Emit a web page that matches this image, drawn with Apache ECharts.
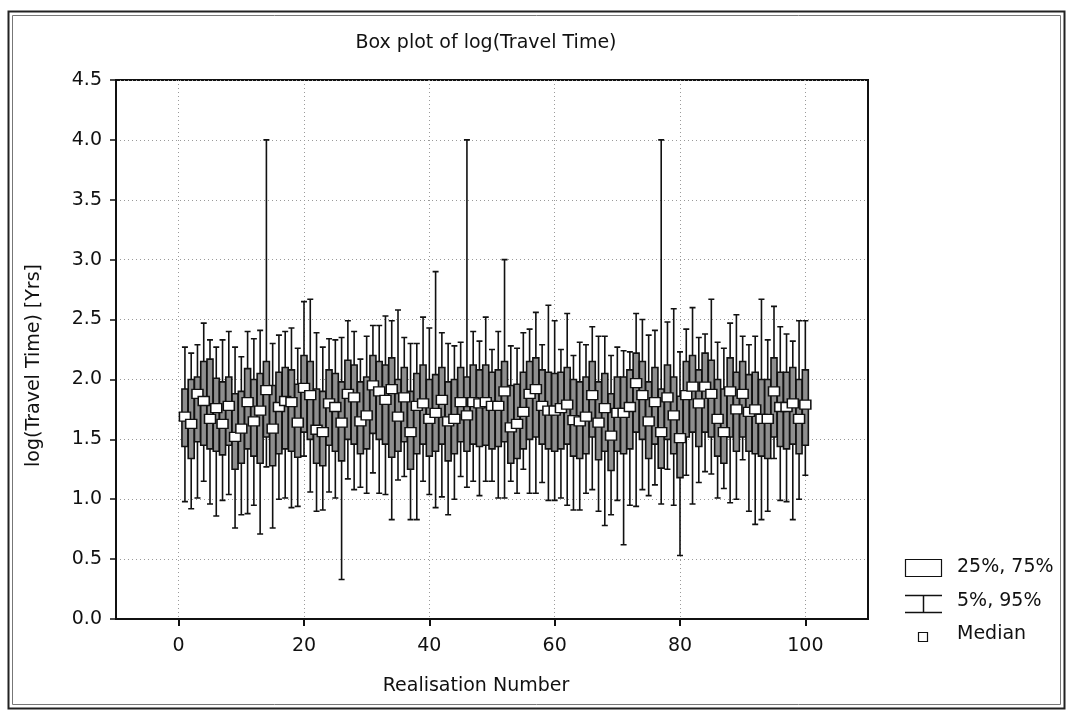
<!DOCTYPE html>
<html>
<head>
<meta charset="utf-8">
<script src="https://cdn.jsdelivr.net/npm/echarts@6/dist/echarts.min.js"></script>
<style>
html,body{margin:0;padding:0;background:#fff;}
#chart{width:1068px;height:711px;}
</style>
</head>
<body>
<div id="chart"></div>
<script>
const realisations = [1,2,3,4,5,6,7,8,9,10,11,12,13,14,15,16,17,18,19,20,21,22,23,24,25,26,27,28,29,30,31,32,33,34,35,36,37,38,39,40,41,42,43,44,45,46,47,48,49,50,51,52,53,54,55,56,57,58,59,60,61,62,63,64,65,66,67,68,69,70,71,72,73,74,75,76,77,78,79,80,81,82,83,84,85,86,87,88,89,90,91,92,93,94,95,96,97,98,99,100];
const p5 = [0.98,0.92,1.01,1.15,0.96,0.86,0.99,1.04,0.76,0.87,0.88,0.95,0.71,1.27,0.76,1.00,1.01,0.93,0.94,1.36,1.06,0.90,0.91,1.06,1.01,0.33,1.17,1.08,1.10,1.05,1.22,1.05,1.04,0.83,1.16,1.19,0.83,0.83,1.15,1.04,0.93,1.02,0.87,1.00,1.19,1.10,1.15,1.03,1.15,1.15,1.01,1.01,1.15,1.05,1.25,1.05,1.05,1.14,0.99,0.99,1.01,0.95,0.91,0.91,1.05,1.08,0.90,0.78,0.87,0.99,0.62,0.95,0.94,1.08,1.03,1.12,0.96,1.25,0.95,0.53,1.20,0.96,1.14,1.23,1.21,1.01,1.09,0.97,1.00,1.33,0.90,0.79,0.83,0.90,1.34,0.99,0.98,0.83,1.00,1.20];
const p25 = [1.44,1.34,1.48,1.45,1.42,1.40,1.37,1.45,1.25,1.30,1.42,1.36,1.30,1.52,1.28,1.38,1.42,1.40,1.35,1.56,1.50,1.30,1.28,1.45,1.40,1.32,1.50,1.46,1.38,1.42,1.55,1.50,1.46,1.35,1.40,1.48,1.25,1.38,1.46,1.36,1.40,1.46,1.32,1.38,1.48,1.40,1.46,1.44,1.45,1.42,1.44,1.48,1.30,1.34,1.42,1.50,1.52,1.46,1.42,1.40,1.42,1.46,1.36,1.34,1.38,1.52,1.33,1.40,1.24,1.40,1.38,1.42,1.56,1.50,1.34,1.46,1.26,1.50,1.38,1.18,1.52,1.56,1.44,1.56,1.52,1.36,1.30,1.52,1.40,1.52,1.40,1.38,1.36,1.34,1.52,1.44,1.42,1.46,1.38,1.45];
const p50 = [1.69,1.63,1.88,1.82,1.67,1.76,1.63,1.78,1.52,1.59,1.81,1.65,1.74,1.91,1.59,1.77,1.82,1.81,1.64,1.93,1.87,1.58,1.56,1.80,1.77,1.64,1.88,1.85,1.65,1.70,1.95,1.90,1.83,1.92,1.69,1.85,1.56,1.78,1.80,1.67,1.72,1.83,1.65,1.67,1.81,1.70,1.81,1.80,1.81,1.78,1.78,1.90,1.60,1.63,1.73,1.88,1.92,1.78,1.74,1.74,1.76,1.79,1.66,1.65,1.69,1.87,1.64,1.76,1.53,1.72,1.72,1.77,1.97,1.87,1.65,1.81,1.56,1.85,1.70,1.51,1.87,1.94,1.80,1.94,1.88,1.67,1.56,1.90,1.75,1.88,1.73,1.75,1.67,1.67,1.90,1.77,1.77,1.80,1.67,1.79];
const p75 = [1.92,2.00,2.02,2.15,2.17,2.01,1.98,2.02,1.88,1.90,2.09,2.00,2.05,2.15,1.95,2.06,2.10,2.08,1.96,2.20,2.15,1.92,1.90,2.08,2.05,1.98,2.16,2.12,1.98,2.02,2.20,2.15,2.12,2.18,2.00,2.10,1.90,2.05,2.12,2.00,2.04,2.10,1.98,2.00,2.10,2.02,2.12,2.08,2.12,2.06,2.08,2.15,1.95,1.96,2.06,2.15,2.18,2.08,2.06,2.05,2.06,2.10,2.00,1.98,2.02,2.15,1.98,2.05,1.88,2.02,2.02,2.08,2.22,2.15,1.98,2.10,1.92,2.12,2.02,1.86,2.15,2.20,2.08,2.22,2.16,2.00,1.92,2.18,2.06,2.15,2.04,2.06,2.00,2.00,2.18,2.06,2.06,2.10,2.00,2.08];
const p95 = [2.27,2.22,2.29,2.47,2.33,2.27,2.33,2.40,2.27,2.19,2.40,2.34,2.41,4.00,2.30,2.37,2.40,2.43,2.26,2.65,2.67,2.39,2.27,2.34,2.33,2.35,2.49,2.40,2.17,2.36,2.45,2.45,2.53,2.49,2.58,2.35,2.30,2.30,2.52,2.43,2.90,2.39,2.30,2.28,2.31,4.00,2.40,2.32,2.52,2.25,2.40,3.00,2.28,2.26,2.39,2.42,2.56,2.29,2.62,2.49,2.25,2.55,2.20,2.31,2.29,2.44,2.36,2.36,2.20,2.27,2.24,2.23,2.55,2.50,2.37,2.41,4.00,2.48,2.59,2.23,2.42,2.60,2.35,2.38,2.67,2.31,2.26,2.47,2.54,2.36,2.29,2.36,2.67,2.33,2.61,2.44,2.38,2.32,2.49,2.49];
const xTicks = [0,20,40,60,80,100];

const FONT = 'DejaVu Sans';
const chart = echarts.init(document.getElementById('chart'), null, {renderer:'canvas'});

const boxData = realisations.map((r,i)=>[r, p5[i], p25[i], p50[i], p75[i], p95[i]]);
const medData = realisations.map((r,i)=>[r, p50[i]]);

chart.setOption({
  backgroundColor:'#fff',
  animation:false,
  title:{
    text:'Box plot of log(Travel Time)',
    left:481, top:29, textAlign:'center',
    textStyle:{fontFamily:FONT, fontSize:19, fontWeight:'normal', color:'#111'}
  },
  grid:{left:116, right:200, top:80, bottom:92, show:true, borderColor:'#111', borderWidth:2, backgroundColor:'transparent'},
  xAxis:{
    type:'value', min:-10, max:110,
    name:'Realisation Number', nameLocation:'middle', nameGap:58,
    nameTextStyle:{fontFamily:FONT, fontSize:19, color:'#111', padding:[0,32,0,0]},
    axisLine:{show:true, onZero:false, lineStyle:{color:'#111', width:2}},
    axisTick:{show:true, length:7, customValues:xTicks, lineStyle:{color:'#111', width:2}},
    axisLabel:{customValues:xTicks, fontFamily:FONT, fontSize:19, color:'#111', margin:18},
    splitLine:{show:true, lineStyle:{color:'#9a9a9a', type:[1,3], width:1}}
  },
  yAxis:{
    type:'value', min:0, max:4.5, interval:0.5,
    name:'log(Travel Time) [Yrs]', nameLocation:'middle', nameGap:72, nameRotate:90,
    nameTextStyle:{fontFamily:FONT, fontSize:19, color:'#111', padding:[0,32,0,0]},
    axisLine:{show:true, onZero:false, lineStyle:{color:'#111', width:2}},
    axisTick:{show:true, length:6, lineStyle:{color:'#111', width:1.5}},
    axisLabel:{fontFamily:FONT, fontSize:19, color:'#111', margin:14, formatter:v=>v.toFixed(1)},
    splitLine:{show:true, lineStyle:{color:'#9a9a9a', type:[1,3], width:1}}
  },
  series:[
    {
      type:'boxplot', name:'25%, 75%',
      data:boxData,
      boxWidth:[6,6],
      itemStyle:{color:'#8e8e8e', borderColor:'#111', borderWidth:1.6},
      z:2
    },
    {
      type:'scatter', name:'Median',
      data:medData, symbol:'rect', symbolSize:[11,9],
      itemStyle:{color:'#fff', borderColor:'#111', borderWidth:1.4, opacity:1},
      z:3
    }
  ],
  graphic:[
    {type:'rect', shape:{x:8.5, y:11.5, width:1056, height:697}, style:{fill:'none', stroke:'#222', lineWidth:2}, silent:true},
    {type:'rect', shape:{x:12.5, y:15.5, width:1048, height:689}, style:{fill:'none', stroke:'#777', lineWidth:1}, silent:true},
    {type:'rect', shape:{x:905.5, y:559.5, width:36, height:17}, style:{fill:'#fff', stroke:'#111', lineWidth:1.2}},
    {type:'text', left:957, top:558, style:{text:'25%, 75%', font:'19px "DejaVu Sans"', fill:'#111'}},
    {type:'line', shape:{x1:905, y1:595.5, x2:942, y2:595.5}, style:{stroke:'#111', lineWidth:1.5}},
    {type:'line', shape:{x1:923.5, y1:595, x2:923.5, y2:612}, style:{stroke:'#111', lineWidth:1.5}},
    {type:'line', shape:{x1:905, y1:612.5, x2:942, y2:612.5}, style:{stroke:'#111', lineWidth:1.5}},
    {type:'text', left:957, top:592, style:{text:'5%, 95%', font:'19px "DejaVu Sans"', fill:'#111'}},
    {type:'rect', shape:{x:918.5, y:632.5, width:9, height:9}, style:{fill:'#fff', stroke:'#111', lineWidth:1.2}},
    {type:'text', left:957, top:625, style:{text:'Median', font:'19px "DejaVu Sans"', fill:'#111'}}
  ]
});
</script>
</body>
</html>
